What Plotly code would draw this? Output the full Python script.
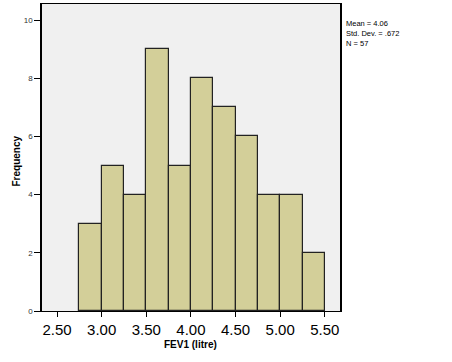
import plotly.graph_objects as go

bin_starts = [2.75, 3.00, 3.25, 3.50, 3.75, 4.00, 4.25, 4.50, 4.75, 5.00, 5.25]
counts = [3, 5, 4, 9, 5, 8, 7, 6, 4, 4, 2]
bin_width = 0.25
x_ticks = [2.5, 3.0, 3.5, 4.0, 4.5, 5.0, 5.5]
x_tick_labels = ["2.50", "3.00", "3.50", "4.00", "4.50", "5.00", "5.50"]
y_ticks = [0, 2, 4, 6, 8, 10]
stats_text = "Mean = 4.06<br>Std. Dev. = .672<br>N = 57"

centers = [s + bin_width / 2 for s in bin_starts]

fig = go.Figure()
fig.add_trace(go.Bar(
    x=centers, y=counts, width=bin_width,
    marker=dict(color="#d3cf99", line=dict(color="#222222", width=1.2)),
    showlegend=False,
))

fig.update_layout(
    width=452, height=362,
    margin=dict(l=42, r=112, t=4, b=51, autoexpand=False),
    paper_bgcolor="white",
    plot_bgcolor="#f0f0f0",
    font=dict(family="Liberation Sans, Arial, sans-serif", color="black"),
    bargap=0,
)
fig.update_xaxes(
    automargin=False,
    range=[2.332, 5.67],
    tickvals=x_ticks, ticktext=x_tick_labels,
    ticks="outside", ticklen=5, tickwidth=1, tickcolor="black",
    tickfont=dict(size=15),
    showgrid=False, zeroline=False,
    showline=True, linecolor="black", linewidth=1.2, mirror=True,
)
fig.update_yaxes(
    automargin=False,
    range=[0, 10.55],
    tickvals=y_ticks,
    ticks="outside", ticklen=6, tickwidth=1.2, tickcolor="black",
    tickfont=dict(size=8, color="#333333"),
    showgrid=False, zeroline=False,
    showline=True, linecolor="black", linewidth=1.5, mirror=True,
)
fig.add_annotation(
    x=0.497, y=-0.108, xref="paper", yref="paper",
    xanchor="center", yanchor="middle",
    text="<b>FEV1 (litre)</b>", showarrow=False,
    font=dict(size=10, color="black"),
)
fig.add_annotation(
    x=-0.084, y=0.49, xref="paper", yref="paper",
    xanchor="center", yanchor="middle", textangle=-90,
    text="<b>Frequency</b>", showarrow=False,
    font=dict(size=10, color="black"),
)
fig.add_annotation(
    x=1.012, y=0.958, xref="paper", yref="paper",
    xanchor="left", yanchor="top", align="left",
    text=stats_text, showarrow=False,
    font=dict(size=7.5, color="black"),
)
fig.write_html("out.html", config={"displayModeBar": False},
               post_script="document.body.style.margin='0';")
